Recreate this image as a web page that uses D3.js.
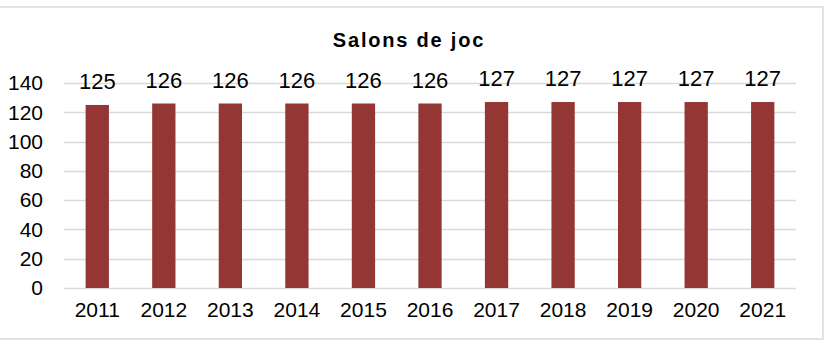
<!DOCTYPE html>
<html>
<head>
<meta charset="utf-8">
<script src="https://cdn.jsdelivr.net/npm/d3@7"></script>
<style>
  html, body { margin: 0; padding: 0; background: #fff; }
  svg { display: block; }
  text { font-family: Arial, "Liberation Sans", sans-serif; fill: #000; }
</style>
</head>
<body>
<svg id="chart" width="825" height="350"></svg>
<script>
const title = "Salons de joc";
const years = ["2011","2012","2013","2014","2015","2016","2017","2018","2019","2020","2021"];
const values = [125,126,126,126,126,126,127,127,127,127,127];
const yTicks = [0,20,40,60,80,100,120,140];

const svg = d3.select("#chart");
const W = 825, H = 350;
const margin = {left: 64, right: 29, top: 83, bottom: 62};

svg.append("rect")
  .attr("x", -2).attr("y", 7)
  .attr("width", 825).attr("height", 332)
  .attr("fill", "#fff")
  .attr("stroke", "#d9d9d9").attr("stroke-width", 1.5);

const x = d3.scaleBand().domain(years)
  .range([margin.left, W - margin.right])
  .paddingInner(0.65).paddingOuter(0.325);
const y = d3.scaleLinear().domain([0, 140]).range([288, 83]);

// gridlines
svg.append("g").selectAll("line").data(yTicks).join("line")
  .attr("x1", margin.left).attr("x2", W - margin.right)
  .attr("y1", d => Math.round(y(d)) + 0.5).attr("y2", d => Math.round(y(d)) + 0.5)
  .attr("stroke", "#d9d9d9").attr("stroke-width", 1.5);

// y axis
const yAxis = d3.axisLeft(y).tickValues(yTicks).tickSize(0).tickPadding(0);
const gy = svg.append("g").attr("transform", "translate(43,0)").call(yAxis);
gy.select(".domain").remove();
gy.selectAll("text").attr("font-size", 21).attr("font-family", "Arial, 'Liberation Sans', sans-serif").attr("fill", "#000");

// x axis
const xAxis = d3.axisBottom(x).tickSize(0).tickPadding(0);
const gx = svg.append("g").attr("transform", "translate(0,300)").call(xAxis);
gx.select(".domain").remove();
gx.selectAll("text").attr("font-size", 21).attr("dy", "0.8em").attr("font-family", "Arial, 'Liberation Sans', sans-serif").attr("fill", "#000");

// bars
svg.append("g").selectAll("rect").data(values).join("rect")
  .attr("x", (d, i) => x(years[i]))
  .attr("width", x.bandwidth())
  .attr("y", d => y(d))
  .attr("height", d => y(0) - y(d))
  .attr("fill", "#943634");

// value labels
svg.append("g").selectAll("text").data(values).join("text")
  .attr("x", (d, i) => x(years[i]) + x.bandwidth() / 2)
  .attr("y", d => y(d) - 16)
  .attr("text-anchor", "middle")
  .attr("font-size", 22)
  .text(d => d);

// title
svg.append("text")
  .attr("x", 409).attr("y", 47)
  .attr("text-anchor", "middle")
  .attr("font-size", 20).attr("font-weight", "bold")
  .attr("letter-spacing", "1.8px")
  .text(title);
</script>
</body>
</html>
